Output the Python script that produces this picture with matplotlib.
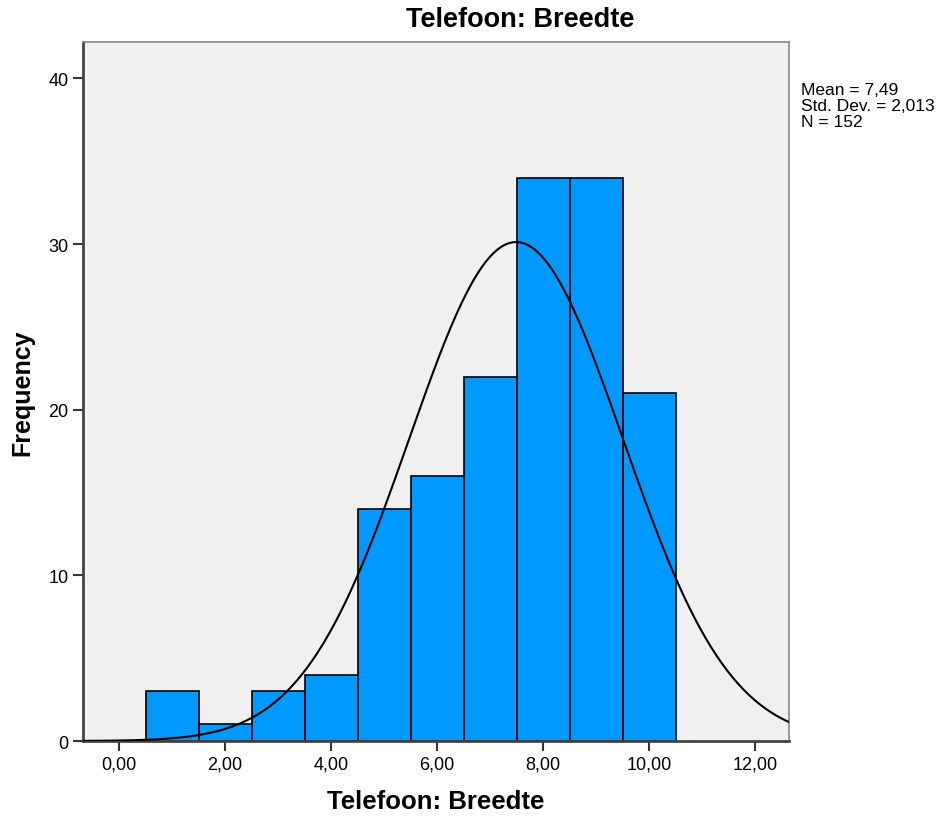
import numpy as np
import matplotlib
matplotlib.use("Agg")
import matplotlib.pyplot as plt

plt.rcParams['font.family'] = ['Liberation Sans', 'DejaVu Sans']

# bin centres and counts
centers = [1, 2, 3, 4, 5, 6, 7, 8, 9, 10]
counts = [3, 1, 3, 4, 14, 16, 22, 34, 34, 21]
mean = 7.49
std = 2.013
n = 152
xticks = [0, 2, 4, 6, 8, 10, 12]
xticklabels = ["0,00", "2,00", "4,00", "6,00", "8,00", "10,00", "12,00"]
yticks = [0, 10, 20, 30, 40]

fig = plt.figure(figsize=(9.48, 8.2), dpi=100)
ax = fig.add_axes([0.0876, 0.0951, 0.7447, 0.8524])
ax.set_facecolor('#f0f0f0')

ax.bar(centers, counts, width=1.0, color='#0099ff', edgecolor='black', linewidth=1.2, zorder=2)

# normal curve scaled to the counts
x = np.linspace(-0.68, 12.64, 400)
y = n * 1.0 / (std * np.sqrt(2 * np.pi)) * np.exp(-0.5 * ((x - mean) / std) ** 2)
ax.plot(x, y, color='black', linewidth=1.5, zorder=3)

ax.set_xlim(-0.68, 12.64)
ax.set_ylim(0, 42.2)
ax.set_xticks(xticks)
ax.set_xticklabels(xticklabels)
ax.set_yticks(yticks)
ax.tick_params(axis='both', direction='out', length=7, width=1.5, labelsize=13, color='#333333')

for side in ['left', 'bottom']:
    ax.spines[side].set_color('#444444')
    ax.spines[side].set_linewidth(2)
for side in ['top', 'right']:
    ax.spines[side].set_color('#888888')
    ax.spines[side].set_linewidth(1.2)

# title sits over the plot + stats column
fig.text(0.5485, 0.9756, "Telefoon: Breedte", fontsize=19.5, fontweight='bold',
         ha='center', va='center')
ax.set_xlabel("Telefoon: Breedte", fontsize=18.5, fontweight='bold', labelpad=12)
ax.set_ylabel("Frequency", fontsize=18, fontweight='bold', labelpad=10)

fig.text(0.845, 0.899, "Mean = 7,49\nStd. Dev. = 2,013\nN = 152", fontsize=12.5,
         va='top', ha='left', linespacing=1.08)

fig.savefig("out.png", dpi=100)
